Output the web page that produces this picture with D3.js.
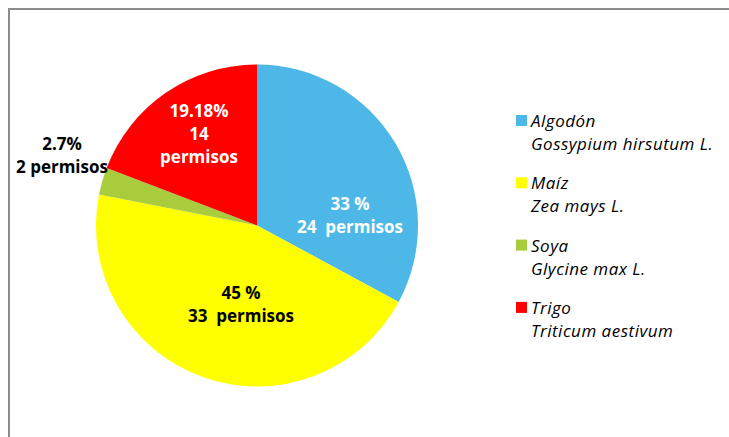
<!DOCTYPE html>
<html>
<head>
<meta charset="utf-8">
<script src="https://cdn.jsdelivr.net/npm/d3@7"></script>
<style>
  html, body { margin: 0; padding: 0; background: #fff; }
  svg { display: block; }
</style>
</head>
<body>
<svg id="chart" width="729" height="437"></svg>
<script>
// ---- data ----
const categories = ["Algodón", "Maíz", "Soya", "Trigo"];
const species = ["Gossypium hirsutum L.", "Zea mays L.", "Glycine max L.", "Triticum aestivum"];
const permits = [24, 33, 2, 14];
const pctLabels = ["33 %", "45 %", "2.7%", "19.18%"];
const countLabels = [["24  permisos"], ["33  permisos"], ["2 permisos"], ["14", "permisos"]];
const colors = ["#4DB8E8", "#FFFF00", "#A8CC3C", "#FF0000"];

// ---- layout (not data) ----
const W = 729, H = 437;
const cx = 257, cy = 225.5, R = 161;
// label anchor (center x, first baseline y) and text colour per slice
const labelPos = [
  {x: 350, y: 210, fill: "#fff"},
  {x: 241, y: 299, fill: "#000"},
  {x: 62,  y: 150, fill: "#000"},
  {x: 199, y: 117, fill: "#fff"}
];
const lineH = 23;

const svg = d3.select("#chart");
const font = "'Open Sans', 'Noto Sans', sans-serif";

// frame
svg.append("path")
  .attr("d", `M9,${H} L9,9 L${W},9`)
  .attr("fill", "none")
  .attr("stroke", "#8c8c8c")
  .attr("stroke-width", 2);

const pie = d3.pie().sort(null).value(d => d)(permits);
const arc = d3.arc().innerRadius(0).outerRadius(R);

const g = svg.append("g").attr("transform", `translate(${cx},${cy})`);
g.selectAll("path.slice")
  .data(pie)
  .join("path")
  .attr("class", "slice")
  .attr("d", arc)
  .attr("fill", (d, i) => colors[i]);

// labels
const lab = svg.append("g")
  .attr("font-family", font)
  .attr("font-weight", "bold")
  .attr("font-size", 17)
  .attr("text-anchor", "middle");

permits.forEach((v, i) => {
  const p = labelPos[i];
  const lines = [pctLabels[i]].concat(countLabels[i]);
  lines.forEach((t, k) => {
    lab.append("text")
      .attr("x", p.x)
      .attr("y", p.y + k * lineH)
      .attr("fill", p.fill)
      .style("white-space", "pre")
      .attr("xml:space", "preserve")
      .text(t);
  });
});

// legend
const leg = svg.append("g").attr("font-family", font).attr("font-style", "italic")
  .attr("font-size", 17).attr("letter-spacing", 0.5).attr("fill", "#000");
const legY0 = 115, legStep = 62.3;
categories.forEach((c, i) => {
  const y = legY0 + i * legStep;
  leg.append("rect").attr("x", 516).attr("y", y).attr("width", 11).attr("height", 11).attr("fill", colors[i]);
  leg.append("text").attr("x", 531).attr("y", y + 12).text(c);
  leg.append("text").attr("x", 531).attr("y", y + 35).text(species[i]);
});
</script>
</body>
</html>
